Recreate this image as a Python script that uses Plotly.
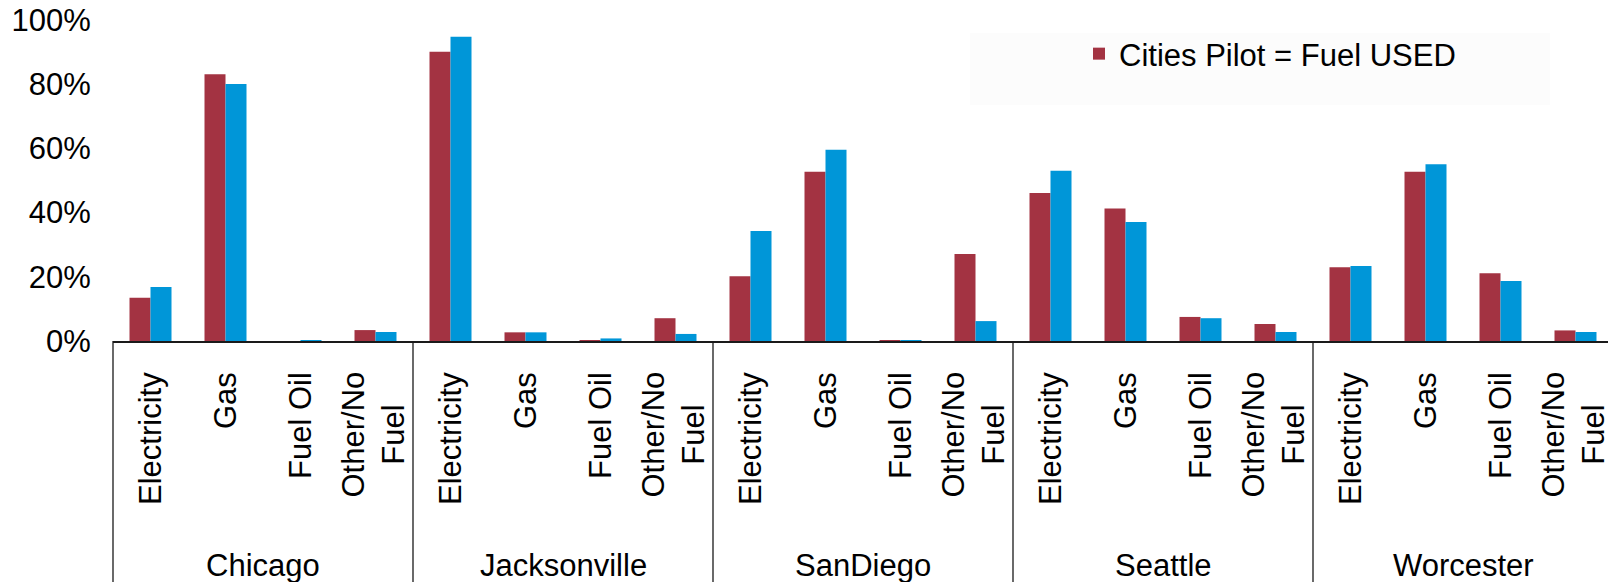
import plotly.graph_objects as go

cities = ["Chicago", "Jacksonville", "SanDiego", "Seattle", "Worcester"]
fuels = ["Electricity", "Gas", "Fuel Oil", "Other/No<br>Fuel"]

# share of homes by fuel, per city
pilot_used = [0.135, 0.831, 0.000, 0.034,
              0.901, 0.027, 0.002, 0.071,
              0.202, 0.527, 0.003, 0.271,
              0.461, 0.413, 0.075, 0.053,
              0.230, 0.527, 0.211, 0.033]
comparison = [0.168, 0.801, 0.003, 0.028,
              0.948, 0.027, 0.008, 0.022,
              0.343, 0.596, 0.002, 0.062,
              0.530, 0.371, 0.071, 0.028,
              0.234, 0.551, 0.187, 0.028]

y_ticks = [0, 0.2, 0.4, 0.6, 0.8, 1.0]

nf = len(fuels)
city_level = [c for c in cities for _ in fuels]
fuel_level = [f for _ in cities for f in fuels]
x_pos = list(range(len(city_level)))

RED = "#A33342"
BLUE = "#0096D8"
FONT = "Liberation Sans, Arial, sans-serif"
FS = 31

W, H = 1608, 582
L, T, B = 113, 20, 241
plot_w = W - L
plot_h = H - T - B
cat_w = 75.0
x_range = [-0.5, -0.5 + plot_w / cat_w]


def to_paper_x(v):
    return (v - x_range[0]) / (x_range[1] - x_range[0])


def py(px):  # pixel row -> paper y
    return (H - B - px) / plot_h


fig = go.Figure()
fig.add_trace(go.Bar(x=x_pos, y=pilot_used, name="Cities Pilot = Fuel USED",
                     customdata=list(zip(city_level, fuel_level)),
                     marker=dict(color=RED, line=dict(width=0))))
fig.add_trace(go.Bar(x=x_pos, y=comparison, name="Comparison", showlegend=False,
                     customdata=list(zip(city_level, fuel_level)),
                     marker=dict(color=BLUE, line=dict(width=0))))

annotations = []
for i, f in zip(x_pos, fuel_level):
    multi = "<br>" in f
    annotations.append(dict(x=i, xref="x", y=py(370), yref="paper",
                            text=f, textangle=-90, showarrow=False,
                            xanchor="center", yanchor="top", align="center",
                            xshift=-2 if multi else 0,
                            font=dict(family=FONT, size=FS, color="black")))
shapes = [dict(type="rect", xref="paper", yref="paper",
               x0=(970 - L) / plot_w, x1=(1550 - L) / plot_w,
               y0=py(105), y1=py(33),
               fillcolor="#FCFCFC", line=dict(width=0), layer="below")]
for k, c in enumerate(cities):
    first = x_pos[k * nf]
    last = x_pos[k * nf + nf - 1]
    annotations.append(dict(x=(first + last) / 2, xref="x", y=py(565), yref="paper",
                            text=c, showarrow=False, xanchor="center", yanchor="middle",
                            font=dict(family=FONT, size=FS, color="black")))
    xb = to_paper_x(first - 0.5)
    shapes.append(dict(type="line", xref="paper", yref="paper",
                       x0=xb, x1=xb, y0=0, y1=py(H),
                       line=dict(color="#1a1a1a", width=1.3)))

fig.update_layout(
    width=W, height=H,
    margin=dict(l=L, r=0, t=T, b=B, pad=0),
    paper_bgcolor="white", plot_bgcolor="white",
    barmode="group", bargap=0.44, bargroupgap=0,
    font=dict(family=FONT, size=FS, color="black"),
    showlegend=True,
    legend=dict(xref="paper", yref="paper", x=(1079 - L) / plot_w, y=py(54),
                xanchor="left", yanchor="middle",
                bgcolor="rgba(0,0,0,0)", borderwidth=0,
                font=dict(family=FONT, size=FS, color="black")),
    shapes=shapes,
    annotations=annotations,
)

fig.update_xaxes(
    range=x_range, showticklabels=False,
    showline=True, linecolor="#1a1a1a", linewidth=1.5,
    showgrid=False, zeroline=False, ticks="",
)
fig.update_yaxes(
    range=[0, 1.0], tickvals=y_ticks, tickformat=".0%",
    showgrid=False, zeroline=False, showline=False,
    ticks="outside", ticklen=15, tickcolor="rgba(0,0,0,0)",
    tickfont=dict(family=FONT, size=FS, color="black"),
)

fig.write_html("out.html")
